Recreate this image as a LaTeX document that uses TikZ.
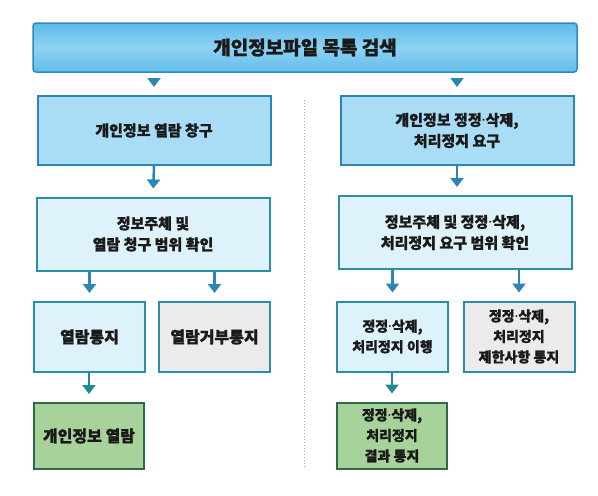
\documentclass[tikz,border=0pt]{standalone}
\usepackage{fontspec}
\setmainfont{Noto Sans CJK KR}[BoldFeatures={FakeBold=1.2}]
\newfontfamily\dotfont{Noto Sans}
\newcommand\mdot{{\dotfont\bfseries ·}}
\usetikzlibrary{arrows.meta,shadings}
\definecolor{barline}{HTML}{2B8CC4}
\definecolor{bartop}{HTML}{5EB9E8}
\definecolor{barmid}{HTML}{8DD3F4}
\definecolor{barbot}{HTML}{62BCEA}
\definecolor{boxa}{HTML}{A9DDF5}
\definecolor{boxaline}{HTML}{2B86B8}
\definecolor{boxb}{HTML}{DDF2FB}
\definecolor{boxbline}{HTML}{2B8DA6}
\definecolor{boxgray}{HTML}{EBEBEB}
\definecolor{boxgreen}{HTML}{A7D39A}
\definecolor{greenline}{HTML}{2D6B4B}
\definecolor{arrblue}{HTML}{2A86B6}
\definecolor{arrteal}{HTML}{1E8A93}
\definecolor{txt}{HTML}{1A1A1A}
\definecolor{dotline}{HTML}{8FA9BF}
\tikzset{
  base/.style={draw, align=center, inner sep=0pt, text=txt, font=\bfseries\fontsize{15}{21}\selectfont},
  topbar/.style={base, draw=barline, line width=1.5pt, rounded corners=3pt,
     top color=bartop, bottom color=barbot, middle color=barmid,
     minimum width=544pt, minimum height=49pt, font=\bfseries\fontsize{19}{22}\selectfont},
  boxone/.style={base, fill=boxa, draw=boxaline, line width=2pt, minimum width=233pt, minimum height=69pt},
  boxtwo/.style={base, fill=boxb, draw=boxbline, line width=2pt, minimum width=233pt, minimum height=73pt},
  boxthree/.style={base, fill=boxb, draw=boxbline, line width=2pt, minimum width=111pt, minimum height=70pt},
  boxrej/.style={boxthree, fill=boxgray},
  boxend/.style={base, fill=boxgreen, draw=greenline, line width=2pt, minimum width=110pt, minimum height=66pt},
  small/.style={font=\bfseries\fontsize{14}{20.5}\selectfont},
  arr/.style={draw=arrblue, line width=2.5pt, -{Triangle[length=9pt,width=13pt]}, shorten >=8pt},
  arrt/.style={arr, draw=arrteal},
  tri/.style={arr, shorten <=7pt, shorten >=8pt},
}
\begin{document}
\begin{tikzpicture}[x=1pt,y=-1pt]
\useasboundingbox (0,0) rectangle (598,496);
\node[topbar] (top) at (305,47.5) {개인정보파일 목록 검색};
\node[boxone] (l1) at (154,130.5) {개인정보 열람 창구};
\node[boxone] (r1) at (457,130.5) {개인정보 정정\mdot 삭제,\\처리정지 요구};
\node[boxtwo] (l2) at (153,234) {정보주체 및\\열람 청구 범위 확인};
\node[boxtwo] (r2) at (455,232.5) {정보주체 및 정정\mdot 삭제,\\처리정지 요구 범위 확인};
\node[boxthree, font=\bfseries\fontsize{16}{21}\selectfont] (l3a) at (89.5,337) {열람통지};
\node[boxrej, font=\bfseries\fontsize{16}{21}\selectfont] (l3b) at (214.5,337) {열람거부통지};
\node[boxthree, small] (r3a) at (392.5,336.5) {정정\mdot 삭제,\\처리정지 이행};
\node[boxrej, small] (r3b) at (519,336.5) {정정\mdot 삭제,\\처리정지\\제한사항 통지};
\node[boxend, font=\bfseries\fontsize{16}{20}\selectfont] (l4) at (89,436) {개인정보 열람};
\node[boxend, small] (r4) at (392,435.5) {정정\mdot 삭제,\\처리정지\\결과 통지};
\coordinate (dtop) at (304,100);
\coordinate (dbot) at (304,467);
\draw[dotline, line width=1pt, dotted] (dtop) -- (dbot);
\draw[tri] (top.south -| l1.north) -- (l1.north);
\draw[tri] (top.south -| r1.north) -- (r1.north);
\draw[arr] (l1.south) -- (l2.north);
\draw[arr] (r1.south) -- (r1.south |- r2.north);
\draw[arr] (l2.south -| l3a.north) -- (l3a.north);
\draw[arr] (l2.south -| l3b.north) -- (l3b.north);
\draw[arr] (r2.south -| r3a.north) -- (r3a.north);
\draw[arr] (r2.south -| r3b.north) -- (r3b.north);
\draw[arrt] (l3a.south -| l4.north) -- (l4.north);
\draw[arrt] (r3a.south -| r4.north) -- (r4.north);
\end{tikzpicture}
\end{document}
